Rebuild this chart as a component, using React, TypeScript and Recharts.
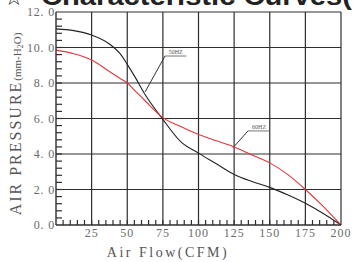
import { LineChart, Line, XAxis, YAxis, ReferenceLine, ReferenceDot } from "recharts";

const AIR_FLOW = [0, 12.5, 25, 37.5, 45, 50, 55, 62.5, 75, 87.5, 100, 112.5, 125, 137.5, 150, 162.5, 175, 187.5, 200];
const PRESSURE_50HZ = [11.05, 10.95, 10.7, 10.2, 9.65, 9.05, 8.4, 7.35, 5.95, 4.7, 4.05, 3.45, 2.85, 2.45, 2.12, 1.7, 1.22, 0.65, 0];
const PRESSURE_60HZ = [9.85, 9.65, 9.3, 8.65, 8.25, 8.0, 7.6, 7.0, 6.05, 5.55, 5.1, 4.75, 4.4, 3.95, 3.5, 2.85, 2.0, 1.05, 0];

const X_MAJOR = [25, 50, 75, 100, 125, 150, 175, 200];
const Y_MAJOR = [2, 4, 6, 8, 10, 12];
const X_TICKS = [
  0, 5, 10, 15, 20, 25, 30, 35, 40, 45, 50, 55, 60, 65, 70, 75, 80, 85, 90, 95, 100,
  105, 110, 115, 120, 125, 130, 135, 140, 145, 150, 155, 160, 165, 170, 175, 180, 185, 190, 195, 200,
];
const Y_TICKS = [
  0, 0.4, 0.8, 1.2, 1.6, 2, 2.4, 2.8, 3.2, 3.6, 4, 4.4, 4.8, 5.2, 5.6, 6, 6.4, 6.8, 7.2, 7.6, 8,
  8.4, 8.8, 9.2, 9.6, 10, 10.4, 10.8, 11.2, 11.6, 12,
];

// leader lines for the curve names (data units)
const LEADER_50 = [{ x: 62.5, y: 7.5 }, { x: 76.5, y: 9.52 }, { x: 91.5, y: 9.52 }];
const LEADER_60 = [{ x: 124.2, y: 4.35 }, { x: 134.7, y: 5.3 }, { x: 150.2, y: 5.3 }];

const data = AIR_FLOW.map((x, i) => ({ x, hz50: PRESSURE_50HZ[i], hz60: PRESSURE_60HZ[i] }));

const GRID = "#2e2e2e";
const LABEL = "#6a6a6a";
const SERIF = "'Liberation Serif', 'DejaVu Serif', serif";

function isMajor(v: number, step: number) {
  return Math.abs(v / step - Math.round(v / step)) < 1e-6;
}

function XTick(props: any) {
  const { x, y, payload } = props;
  const v = payload.value as number;
  const major = isMajor(v, 25);
  return (
    <g>
      {v > 0 && v < 200 && <line x1={x} x2={x} y1={y} y2={y - 5} stroke={GRID} strokeWidth={1.2} />}
      {major && v > 0 && (
        <text x={x} y={y + 12} textAnchor="middle" fontSize={12} letterSpacing={1} fontFamily={SERIF} fill={LABEL}>
          {v}
        </text>
      )}
    </g>
  );
}

function YTick(props: any) {
  const { x, y, payload } = props;
  const v = payload.value as number;
  const major = isMajor(v, 2);
  return (
    <g>
      {v > 0 && v < 12 && <line x1={x} x2={x + 6} y1={y} y2={y} stroke={GRID} strokeWidth={1.2} />}
      {major && (
        <text x={x - 1} y={y + 4} textAnchor="end" fontSize={12} letterSpacing={0.8} fontFamily={SERIF} fill={LABEL}>
          {v.toFixed(1).replace(".", ". ")}
        </text>
      )}
    </g>
  );
}

function NameLabel(text: string) {
  return (props: any) => (
    <text x={props.cx} y={props.cy} textAnchor="middle" fontSize={6} fontFamily={SERIF} fill="#555">
      {text}
    </text>
  );
}

export default function App() {
  return (
    <div style={{ position: "absolute", left: 0, top: 0, width: 355, height: 262, background: "#fff", overflow: "hidden" }}>
      <LineChart width={355} height={262} data={data} margin={{ top: 12, right: 14, left: 8, bottom: 0 }}>
        <XAxis
          dataKey="x"
          type="number"
          domain={[0, 200]}
          ticks={X_TICKS}
          interval={0}
          height={37}
          tickSize={0}
          tickMargin={0}
          tick={<XTick />}
          tickLine={false}
          axisLine={{ stroke: GRID, strokeWidth: 1.4 }}
        />
        <YAxis
          type="number"
          domain={[0, 12]}
          ticks={Y_TICKS}
          interval={0}
          width={48}
          tickSize={0}
          tickMargin={0}
          tick={<YTick />}
          tickLine={false}
          axisLine={{ stroke: GRID, strokeWidth: 1.4 }}
        />
        {X_MAJOR.map((v) => (
          <ReferenceLine key={"x" + v} x={v} stroke={GRID} strokeWidth={1.2} />
        ))}
        {Y_MAJOR.map((v) => (
          <ReferenceLine key={"y" + v} y={v} stroke={GRID} strokeWidth={1.2} />
        ))}
        <ReferenceLine segment={[LEADER_50[0], LEADER_50[1]]} stroke="#333" strokeWidth={1} />
        <ReferenceLine segment={[LEADER_50[1], LEADER_50[2]]} stroke="#555" strokeWidth={0.8} />
        <ReferenceLine segment={[LEADER_60[0], LEADER_60[1]]} stroke="#333" strokeWidth={1} />
        <ReferenceLine segment={[LEADER_60[1], LEADER_60[2]]} stroke="#555" strokeWidth={0.8} />
        <ReferenceDot x={84} y={9.65} r={0} shape={NameLabel("50HZ")} />
        <ReferenceDot x={142.5} y={5.42} r={0} shape={NameLabel("60HZ")} />
        <Line dataKey="hz50" type="monotone" stroke="#222" strokeWidth={1.1} dot={false} isAnimationActive={false} />
        <Line dataKey="hz60" type="monotone" stroke="#e2373a" strokeWidth={1.1} dot={false} isAnimationActive={false} />
      </LineChart>
      <svg width={355} height={262} style={{ position: "absolute", left: 0, top: 0, pointerEvents: "none" }}>
        <text x={4} y={5} fontSize={22} fontFamily="'DejaVu Sans', sans-serif" fill="#222">☆</text>
        <text x={41} y={5} fontSize={26} fontWeight="bold" fontFamily="'Liberation Sans', Arial, sans-serif" fill="#222" textLength={311} lengthAdjust="spacingAndGlyphs">
          Characteristic Curves(
        </text>
        <text
          transform="translate(21,124) rotate(-90)"
          textAnchor="middle"
          fontFamily={SERIF}
          fill="#555"
        >
          <tspan fontSize={16} letterSpacing={2}>AIR PRESSURE</tspan>
          <tspan fontSize={11}>(mm-H</tspan>
          <tspan fontSize={8} dy={2}>2</tspan>
          <tspan fontSize={11} dy={-2}>O)</tspan>
        </text>
        <text x={168} y={257} textAnchor="middle" fontSize={14} letterSpacing={2.5} fontFamily={SERIF} fill="#555">
          Air Flow(CFM)
        </text>
      </svg>
    </div>
  );
}
